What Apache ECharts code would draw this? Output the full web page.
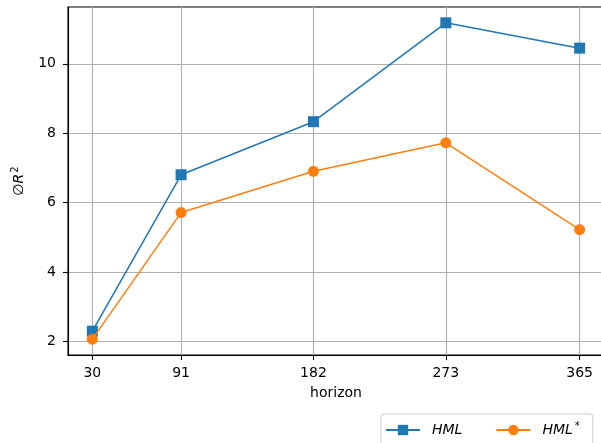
<!DOCTYPE html>
<html>
<head>
<meta charset="utf-8">
<script src="https://cdn.jsdelivr.net/npm/echarts@6/dist/echarts.min.js"></script>
<style>
  html, body { margin: 0; padding: 0; background: #fff; overflow: hidden; }
  #chart { width: 601px; height: 443px; }
</style>
</head>
<body>
<div id="chart"></div>
<script>
// Forecast horizons (days) and average R² values for each factor
const horizons = [30, 91, 182, 273, 365];
const hml = [2.29, 6.80, 8.33, 11.18, 10.45];
const hmlStar = [2.06, 5.71, 6.90, 7.72, 5.22];
const yTicks = [2, 4, 6, 8, 10];

const FONT = 'DejaVu Sans';
const BLUE = '#1f77b4';
const ORANGE = '#ff7f0e';

// Axis ranges padded by 5% of the data span on each side
const xSpan = horizons[horizons.length - 1] - horizons[0];
const xMin = horizons[0] - 0.05 * xSpan;
const xMax = horizons[horizons.length - 1] + 0.05 * xSpan;
const allY = hml.concat(hmlStar);
const yLo = Math.min.apply(null, allY), yHi = Math.max.apply(null, allY);
const yMin = yLo - 0.05 * (yHi - yLo);
const yMax = yHi + 0.05 * (yHi - yLo);

const chart = echarts.init(document.getElementById('chart'), null, { renderer: 'canvas' });

chart.setOption({
  animation: false,
  backgroundColor: '#fff',
  textStyle: { fontFamily: FONT },
  grid: {
    left: 68, width: 536, top: 7, bottom: 88,
    outerBoundsMode: 'none',
    show: true, borderColor: '#000', borderWidth: 1.1, containLabel: false
  },
  legend: {
    left: 381, top: 414,
    padding: [7, 13, 9, 4],
    itemGap: 33,
    itemWidth: 34, itemHeight: 13,
    borderColor: '#cccccc', borderWidth: 1, borderRadius: 3,
    backgroundColor: '#fff',
    data: ['HML', 'HML*'],
    formatter: function (name) {
      return name === 'HML' ? '{i|HML}' : '{i|HML}{sup|*}';
    },
    textStyle: {
      fontFamily: FONT, fontSize: 14, color: '#000',
      rich: {
        i: { fontFamily: FONT, fontStyle: 'italic', fontSize: 14, color: '#000', padding: [0, 0, 0, 7] },
        sup: { fontFamily: FONT, fontSize: 10, color: '#000', verticalAlign: 'top', padding: [0, 0, 8, 2] }
      }
    }
  },
  xAxis: {
    type: 'value',
    min: xMin, max: xMax,
    name: 'horizon',
    nameLocation: 'middle',
    nameGap: 31,
    nameTextStyle: { fontFamily: FONT, fontSize: 14, color: '#000' },
    axisLine: { show: true, onZero: false, lineStyle: { color: '#000', width: 1.1 } },
    axisTick: { show: true, length: 5, customValues: horizons, lineStyle: { color: '#000', width: 1.1 } },
    axisLabel: { customValues: horizons, margin: 11, fontFamily: FONT, fontSize: 14, color: '#000' },
    splitLine: { show: true, lineStyle: { color: '#b0b0b0', width: 1.1 } }
  },
  yAxis: {
    type: 'value',
    min: yMin, max: yMax,
    name: '∅{it|R}{sup|2}',
    nameLocation: 'middle',
    nameRotate: 90,
    nameGap: 40,
    nameTextStyle: {
      fontFamily: FONT, fontSize: 14, color: '#000',
      rich: {
        it: { fontFamily: FONT, fontStyle: 'italic', fontSize: 14, color: '#000' },
        sup: { fontFamily: FONT, fontSize: 10, color: '#000', verticalAlign: 'top', padding: [0, 0, 8, 1] }
      }
    },
    axisLine: { show: true, onZero: false, lineStyle: { color: '#000', width: 1.1 } },
    axisTick: { show: true, length: 5, customValues: yTicks, lineStyle: { color: '#000', width: 1.1 } },
    axisLabel: { customValues: yTicks, margin: 12, fontFamily: FONT, fontSize: 14, color: '#000' },
    splitLine: { show: true, lineStyle: { color: '#b0b0b0', width: 1.1 } }
  },
  series: [
    {
      name: 'HML',
      type: 'line',
      data: horizons.map((h, i) => [h, hml[i]]),
      symbol: 'rect',
      symbolSize: 11,
      showAllSymbol: true,
      lineStyle: { color: BLUE, width: 1.5 },
      itemStyle: { color: BLUE, borderWidth: 0 },
      z: 3
    },
    {
      name: 'HML*',
      type: 'line',
      data: horizons.map((h, i) => [h, hmlStar[i]]),
      symbol: 'circle',
      symbolSize: 11,
      showAllSymbol: true,
      lineStyle: { color: ORANGE, width: 1.5 },
      itemStyle: { color: ORANGE, borderWidth: 0 },
      z: 4
    }
  ]
});
</script>
</body>
</html>
